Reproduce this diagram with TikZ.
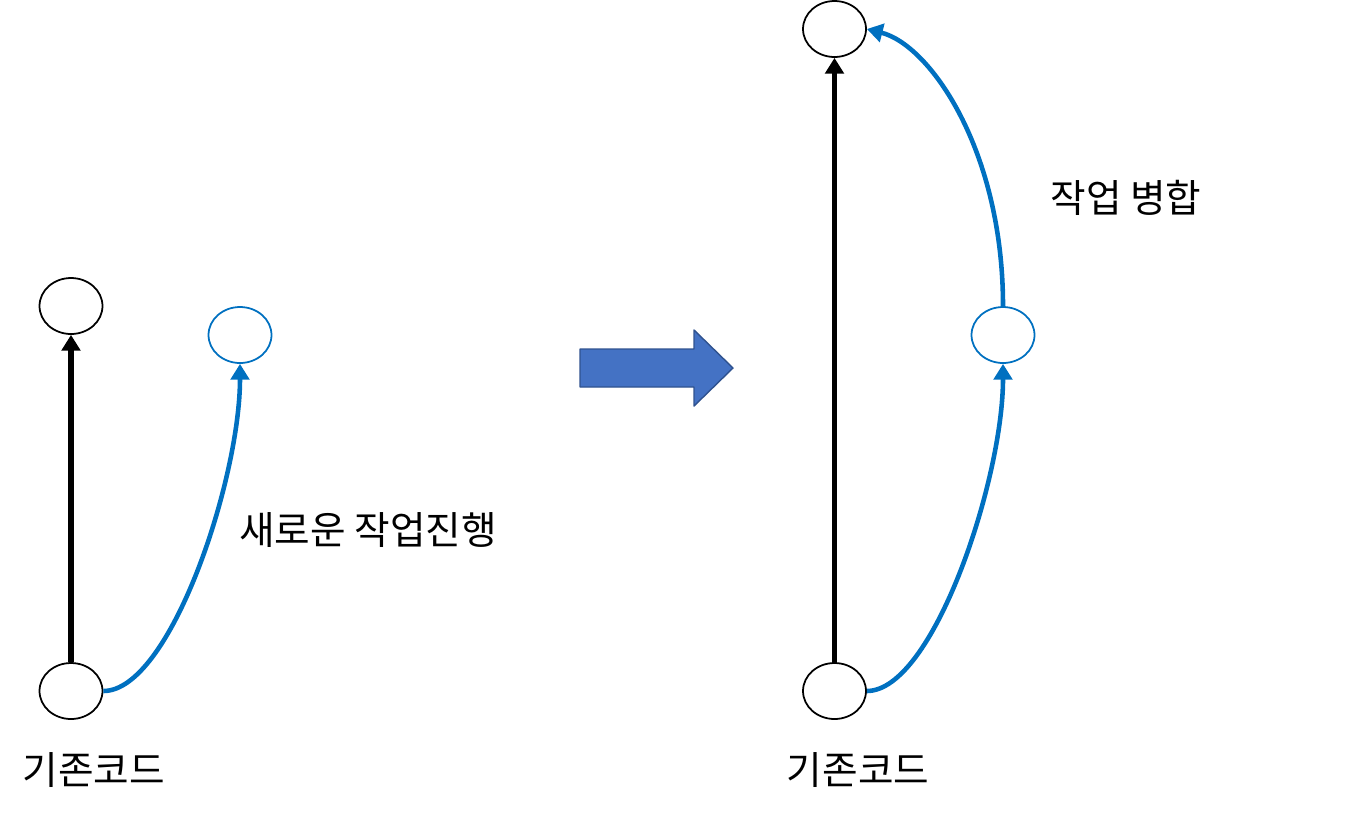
\documentclass[tikz,border=0pt]{standalone}
\usepackage{fontspec}
\setmainfont{Noto Sans CJK KR}
\usetikzlibrary{shapes.geometric,arrows.meta}
\definecolor{gitblue}{HTML}{0070C0}
\definecolor{bigarrow}{HTML}{4472C4}
\definecolor{bigarrowline}{HTML}{2F528F}
\begin{document}
\begin{tikzpicture}[x=0.02cm, y=-0.02cm, font=\fontsize{22}{26}\selectfont, line join=round, >={Triangle[width=10.5pt,length=9pt]},
  commit/.style={ellipse, draw, line width=1pt, minimum width=1.26cm, minimum height=1.12cm, inner sep=0pt},
  main/.style={->, line width=3pt},
  work/.style={->, line width=2.6pt, gitblue}]
\useasboundingbox (0,0) rectangle (1362,816);
% before
\node[commit] (lbot) at (71,691) {};
\node[commit] (ltop) at (71,306) {};
\node[commit, gitblue] (lnew) at (240,335) {};
\draw[main] (lbot) -- (ltop);
\draw[work] (lbot.east) .. controls (170,691) and (240,480) .. (lnew.south);
\node (lbase) at (94,770) {기존코드};
\node (lwork) at (368,530) {새로운 작업진행};
% big arrow
\draw[fill=bigarrow, draw=bigarrowline, line width=0.8pt] (580,349) -- (694,349) -- (694,330) -- (733,368) -- (694,406) -- (694,387) -- (580,387) -- cycle;
% after
\node[commit] (rbot) at (834.5,691) {};
\node[commit] (rtop) at (834.5,29) {};
\node[commit, gitblue] (rnew) at (1003,335) {};
\draw[main] (rbot) -- (rtop);
\draw[work] (rbot.east) .. controls (933,691) and (1003,480) .. (rnew.south);
\draw[work] (rnew.north) .. controls (1003,150) and (930,45) .. (rtop.east);
\node (rbase) at (858,770) {기존코드};
\node (rmerge) at (1126,198) {작업 병합};
\end{tikzpicture}
\end{document}
